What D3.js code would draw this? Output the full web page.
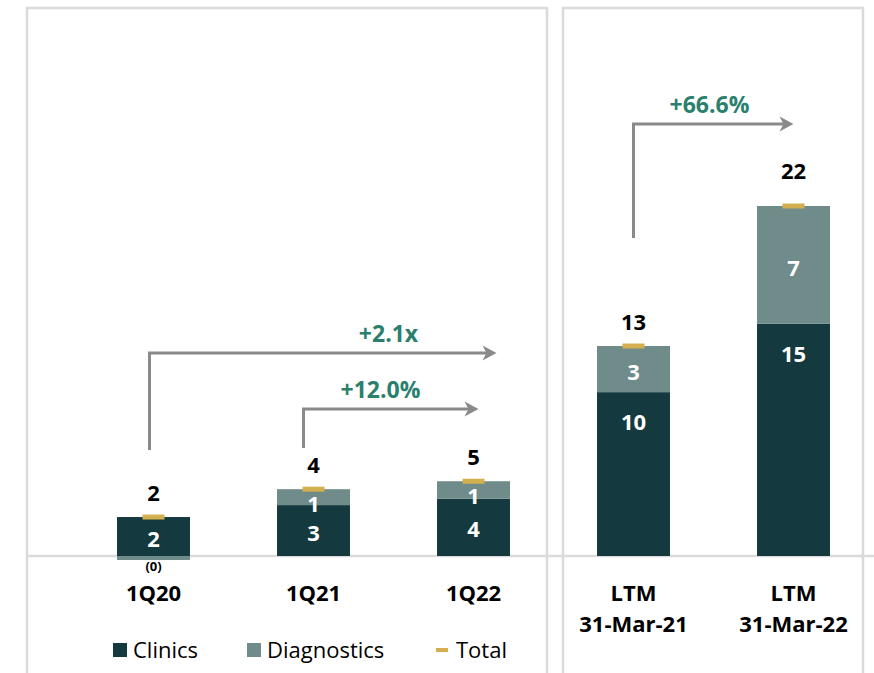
<!DOCTYPE html>
<html>
<head>
<meta charset="utf-8">
<script src="https://cdn.jsdelivr.net/npm/d3@7"></script>
<style>
  body { margin: 0; background: #fff; }
  svg { display: block; font-family: "Open Sans", sans-serif; }
</style>
</head>
<body>
<div id="chart"></div>
<script>
// chart values
const categories = ["1Q20", "1Q21", "1Q22", "LTM\n31-Mar-21", "LTM\n31-Mar-22"];
const clinics = [2.45, 3.2, 3.6, 10.3, 14.6];
const diagnostics = [-0.25, 1.0, 1.1, 2.9, 7.4];
const growthLabels = ["+2.1x", "+12.0%", "+66.6%"];
const seriesNames = ["Clinics", "Diagnostics", "Total"];

const width = 874;
const height = 673;

const colors = {
  clinics: "#143a3f",
  diagnostics: "#6f8b8a",
  total: "#d4af4f",
  growth: "#2a7f6d",
  arrow: "#8a8a8a",
  frame: "#dadada"
};

const svg = d3.select("#chart")
  .append("svg")
  .attr("width", width)
  .attr("height", height);

// scales
const x = d3.scaleBand()
  .domain(categories)
  .range([73.5, 873.5])
  .paddingInner(0.544)
  .paddingOuter(0.272);

const y = d3.scaleLinear()
  .domain([0, 22])
  .range([556, 206]);

const data = categories.map((c, i) => ({
  cat: c,
  clinics: clinics[i],
  diag: diagnostics[i],
  total: clinics[i] + diagnostics[i],
  // top of the positive stack, where the total marker sits
  top: clinics[i] + Math.max(diagnostics[i], 0)
}));

// panel frames
svg.append("path")
  .attr("d", `M27,${height} V8 H547 V${height} M563,${height} V8 H863 V${height}`)
  .attr("fill", "none")
  .attr("stroke", colors.frame)
  .attr("stroke-width", 2.5);

// baseline
svg.append("line")
  .attr("x1", 27).attr("x2", width)
  .attr("y1", y(0)).attr("y2", y(0))
  .attr("stroke", colors.frame)
  .attr("stroke-width", 2.5);

const bars = svg.append("g");

// clinics segment
bars.selectAll("rect.clinics")
  .data(data)
  .enter().append("rect")
    .attr("class", "clinics")
    .attr("x", d => x(d.cat))
    .attr("width", x.bandwidth())
    .attr("y", d => y(d.clinics))
    .attr("height", d => y(0) - y(d.clinics))
    .attr("fill", colors.clinics);

// diagnostics segment (negative values hang below the axis)
bars.selectAll("rect.diag")
  .data(data)
  .enter().append("rect")
    .attr("class", "diag")
    .attr("x", d => x(d.cat))
    .attr("width", x.bandwidth())
    .attr("y", d => d.diag >= 0 ? y(d.clinics + d.diag) : y(0))
    .attr("height", d => Math.abs(y(0) - y(d.diag)))
    .attr("fill", colors.diagnostics);

// total markers
bars.selectAll("rect.total")
  .data(data)
  .enter().append("rect")
    .attr("x", d => x(d.cat) + x.bandwidth() / 2 - 11)
    .attr("width", 22)
    .attr("y", d => y(d.top) - 2.5)
    .attr("height", 5)
    .attr("fill", colors.total);

const fmt = v => {
  const r = Math.round(Math.abs(v));
  return v < 0 ? `(${r})` : `${r}`;
};

const labels = svg.append("g")
  .attr("font-weight", "bold")
  .attr("text-anchor", "middle");

// clinics labels
labels.selectAll("text.clinics")
  .data(data)
  .enter().append("text")
    .attr("x", d => x(d.cat) + x.bandwidth() / 2)
    .attr("y", d => Math.min((y(d.clinics) + y(0)) / 2 + 3, y(d.clinics) + 30))
    .attr("dy", "0.36em")
    .attr("font-size", 22)
    .attr("fill", "#fff")
    .text(d => fmt(d.clinics));

// diagnostics labels
labels.selectAll("text.diag")
  .data(data)
  .enter().append("text")
    .attr("x", d => x(d.cat) + x.bandwidth() / 2)
    .attr("y", d => {
      if (d.diag < 0) return y(d.diag) + 6;
      const top = y(d.total);
      return Math.max((top + y(d.clinics)) / 2 + 3, top + 15);
    })
    .attr("dy", "0.36em")
    .attr("font-size", d => d.diag < 0 ? 13 : 22)
    .attr("fill", d => d.diag < 0 ? "#000" : "#fff")
    .text(d => fmt(d.diag));

// total labels
labels.selectAll("text.total")
  .data(data)
  .enter().append("text")
    .attr("x", d => x(d.cat) + x.bandwidth() / 2)
    .attr("y", (d, i) => y(d.top) - (i === 4 ? 35 : 24))
    .attr("dy", "0.36em")
    .attr("font-size", 22)
    .attr("fill", "#000")
    .text(d => fmt(d.total));

// category axis labels
const axis = svg.append("g")
  .attr("font-weight", "bold")
  .attr("font-size", 22)
  .attr("text-anchor", "middle");

categories.forEach(c => {
  const t = axis.append("text")
    .attr("x", x(c) + x.bandwidth() / 2)
    .attr("y", 593);
  c.split("\n").forEach((line, j) => {
    t.append("tspan")
      .attr("x", x(c) + x.bandwidth() / 2)
      .attr("dy", j === 0 ? "0.36em" : 31)
      .text(line);
  });
});

// growth arrows
const arrows = [
  { from: 0, to: 2, label: growthLabels[0], lineY: 353, startY: 450, dxFrom: -4, dxTo: 23, labelDx: -5 },
  { from: 1, to: 2, label: growthLabels[1], lineY: 409, startY: 448, dxFrom: -10, dxTo: 5, labelDx: -13 },
  { from: 3, to: 4, label: growthLabels[2], lineY: 124, startY: 238, dxFrom: 0, dxTo: 0, labelDx: -4 }
];

const cx = i => x(categories[i]) + x.bandwidth() / 2;

const arrowG = svg.append("g");
arrows.forEach(a => {
  const x0 = cx(a.from) + a.dxFrom;
  const x1 = cx(a.to) + a.dxTo;
  arrowG.append("path")
    .attr("d", `M${x0},${a.startY} V${a.lineY} H${x1 - 6}`)
    .attr("fill", "none")
    .attr("stroke", colors.arrow)
    .attr("stroke-width", 3);
  arrowG.append("path")
    .attr("d", `M${x1},${a.lineY} L${x1 - 14},${a.lineY - 7.5} L${x1 - 10},${a.lineY} L${x1 - 14},${a.lineY + 7.5} Z`)
    .attr("fill", colors.arrow);
  arrowG.append("text")
    .attr("x", (cx(a.to - 1) + cx(a.to)) / 2 + a.labelDx)
    .attr("y", a.lineY - 19)
    .attr("dy", "0.36em")
    .attr("text-anchor", "middle")
    .attr("font-weight", "bold")
    .attr("font-size", 23)
    .attr("fill", colors.growth)
    .text(a.label);
});

// legend
const legend = svg.append("g")
  .attr("font-size", 22);
const legendX = [113, 247, 436];
seriesNames.forEach((name, i) => {
  const g = legend.append("g").attr("transform", `translate(${legendX[i]},650)`);
  if (i < 2) {
    g.append("rect")
      .attr("x", 0).attr("y", -7)
      .attr("width", 14).attr("height", 14)
      .attr("fill", i === 0 ? colors.clinics : colors.diagnostics);
  } else {
    g.append("rect")
      .attr("x", 0).attr("y", -2)
      .attr("width", 12).attr("height", 4)
      .attr("fill", colors.total);
  }
  g.append("text")
    .attr("x", 20)
    .attr("dy", "0.36em")
    .attr("fill", "#000")
    .text(name);
});
</script>
</body>
</html>
